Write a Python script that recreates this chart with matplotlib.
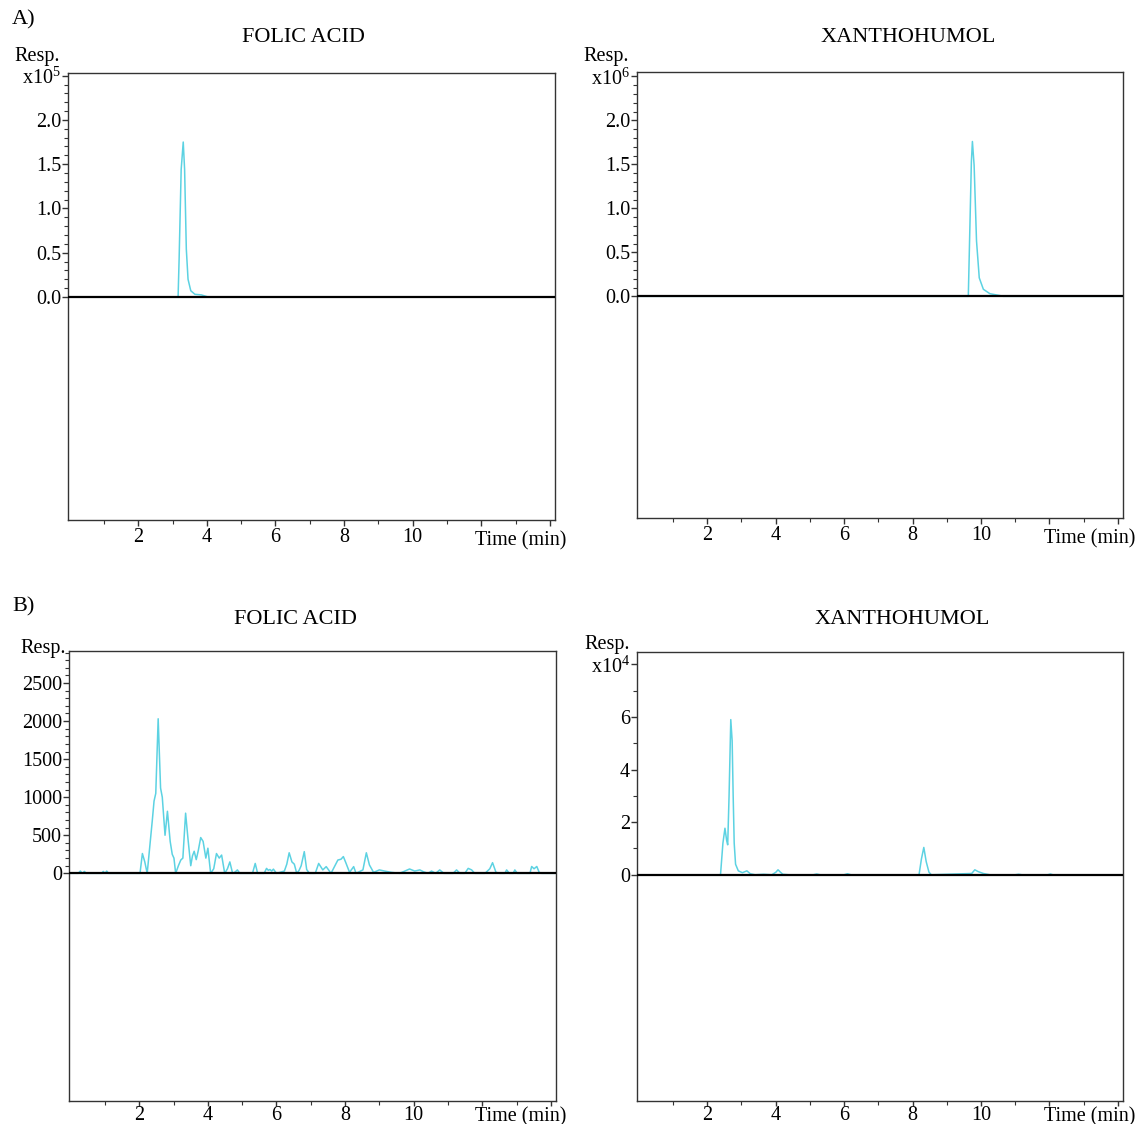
import numpy as np
import matplotlib
matplotlib.use("Agg")
import matplotlib.pyplot as plt
from matplotlib.ticker import FixedLocator, NullFormatter

plt.rcParams['font.family'] = ['Liberation Serif', 'DejaVu Serif']
plt.rcParams['mathtext.fontset'] = 'custom'
plt.rcParams['mathtext.rm'] = 'Liberation Serif'
plt.rcParams['mathtext.it'] = 'Liberation Serif'

TRACE = '#5cd2e2'

# A) standards (response x10^5 / x10^6)
folic_std_t = [0.0, 3.10, 3.16, 3.19, 3.25, 3.31, 3.35, 3.40, 3.45, 3.53, 3.65, 3.84, 4.03, 14.1]
folic_std_v = [0.0, 0.0, 0.0, 0.43, 1.44, 1.75, 1.44, 0.54, 0.20, 0.07, 0.03, 0.023, 0.0, 0.0]

xanth_std_t = [0.0, 9.58, 9.63, 9.68, 9.72, 9.75, 9.80, 9.87, 9.95, 10.07, 10.26, 10.56, 10.65, 14.1]
xanth_std_v = [0.0, 0.0, 0.0, 0.85, 1.53, 1.76, 1.49, 0.63, 0.21, 0.08, 0.03, 0.008, 0.0, 0.0]

# B) sample (folic acid in counts, xanthohumol x10^4)
folic_smp_t = [0.0, 0.22, 0.28, 0.34, 0.40, 0.45, 0.90, 0.95, 1.00, 1.05, 1.10,
               2.02, 2.09, 2.16, 2.23, 2.38, 2.43, 2.48, 2.55, 2.62, 2.67, 2.75, 2.82, 2.90,
               2.96, 3.01, 3.06, 3.14, 3.21, 3.27, 3.35, 3.42, 3.50, 3.55, 3.60, 3.66, 3.72,
               3.79, 3.86, 3.94, 4.00, 4.08, 4.17, 4.25, 4.33, 4.40, 4.49, 4.57, 4.64, 4.72,
               4.80, 4.86, 4.93, 5.30, 5.38, 5.45, 5.64, 5.71, 5.76, 5.81, 5.86, 5.91, 6.00,
               6.23, 6.30, 6.37, 6.45, 6.52, 6.59, 6.66, 6.72, 6.81, 6.88, 6.96, 7.13, 7.23,
               7.35, 7.45, 7.59, 7.69, 7.79, 7.88, 7.95, 8.03, 8.13, 8.25, 8.32, 8.52, 8.62,
               8.71, 8.83, 9.00, 9.15, 9.35, 9.59, 9.74, 9.88, 10.03, 10.18, 10.29, 10.42,
               10.52, 10.64, 10.76, 10.88, 11.15, 11.25, 11.35, 11.49, 11.59, 11.69, 11.78,
               12.08, 12.22, 12.30, 12.40, 12.51, 12.66, 12.71, 12.79, 12.90, 12.95, 13.02,
               13.39, 13.44, 13.51, 13.59, 13.66, 13.73, 14.1]
folic_smp_v = [0, 0, 30, 0, 25, 0, 0, 25, 0, 30, 0,
               0, 260, 150, 0, 700, 950, 1050, 2030, 1120, 1000, 500, 815, 420,
               250, 200, 0, 100, 175, 200, 790, 450, 100, 230, 290, 180, 300,
               470, 420, 200, 330, 0, 60, 260, 200, 240, 0, 60, 150, 0,
               20, 45, 0, 0, 130, 0, 0, 65, 40, 50, 30, 55, 0,
               30, 120, 270, 150, 120, 0, 40, 100, 285, 50, 0, 0, 130,
               45, 88, 0, 88, 175, 185, 220, 130, 13, 88, 0, 45, 270,
               110, 13, 45, 30, 13, 0, 30, 57, 30, 45, 20, 0,
               30, 0, 45, 0, 0, 45, 0, 0, 65, 45, 0,
               0, 60, 140, 13, 0, 0, 45, 0, 0, 45, 0,
               0, 90, 60, 90, 13, 0, 0]

xanth_smp_t = [0.0, 2.39, 2.46, 2.52, 2.57, 2.60, 2.64, 2.69, 2.73, 2.76, 2.79, 2.83,
               2.91, 3.03, 3.16, 3.26, 3.40, 3.65, 3.89, 4.01, 4.07, 4.14, 4.21, 4.38,
               5.10, 5.20, 5.30, 6.00, 6.10, 6.20, 8.19, 8.26, 8.33, 8.40, 8.48, 8.55,
               9.73, 9.82, 9.92, 10.07, 10.26, 11.00, 11.10, 11.20, 11.95, 12.03, 12.10, 14.1]
xanth_smp_v = [0.0, 0.0, 1.2, 1.77, 1.3, 1.14, 3.0, 5.9, 5.1, 3.0, 1.2, 0.4,
               0.15, 0.08, 0.15, 0.04, 0.0, 0.02, 0.0, 0.1, 0.19, 0.1, 0.02, 0.0,
               0.0, 0.03, 0.0, 0.0, 0.04, 0.0, 0.0, 0.6, 1.04, 0.5, 0.1, 0.0,
               0.05, 0.19, 0.12, 0.05, 0.0, 0.0, 0.02, 0.0, 0.0, 0.03, 0.0, 0.0]

xticks_major = [2, 4, 6, 8, 10, 12, 14]
xticks_minor = [1, 3, 5, 7, 9, 11, 13]
xtick_labels = ['2', '4', '6', '8', '10', '', '']

fig = plt.figure(figsize=(11.35, 11.24), dpi=100)

W, H = 1135, 1124
FS = 14.5


def make_ax(left, top, right, bottom):
    return fig.add_axes([left / W, 1 - bottom / H, (right - left) / W, (bottom - top) / H])


def style(ax, ylim, yticks, ylabels, yminor, xpad, xlen):
    ax.set_xlim(-0.05, 14.15)
    ax.set_ylim(*ylim)
    ax.axhline(0, color='black', lw=1.6, zorder=3)
    for s in ax.spines.values():
        s.set_linewidth(1.0)
        s.set_color('#333333')
    ax.xaxis.set_major_locator(FixedLocator(xticks_major))
    ax.xaxis.set_minor_locator(FixedLocator(xticks_minor))
    ax.set_xticklabels(xtick_labels)
    ax.xaxis.set_minor_formatter(NullFormatter())
    ax.yaxis.set_major_locator(FixedLocator(yticks))
    ax.yaxis.set_minor_locator(FixedLocator(yminor))
    ax.set_yticklabels(ylabels)
    ax.tick_params(axis='both', which='major', direction='out', length=4, width=1,
                   labelsize=FS, color='#333333')
    ax.tick_params(axis='both', which='minor', direction='out', length=3, width=0.8,
                   color='#333333')
    ax.tick_params(axis='y', which='major', pad=1)
    ax.tick_params(axis='x', which='major', pad=xpad, length=xlen)
    ax.tick_params(axis='x', which='minor', length=min(3, xlen))


# panel A left
ax1 = make_ax(68, 73, 555, 520)
ax1.plot(folic_std_t, folic_std_v, color=TRACE, lw=1.1)
style(ax1, (-2.52, 2.53), [0, 0.5, 1.0, 1.5, 2.0, 2.5],
      ['0.0', '0.5', '1.0', '1.5', '2.0', 'x10$^5$'], np.arange(0, 2.55, 0.1), 1.5, 4)

# panel A right
ax2 = make_ax(637, 72, 1123, 518)
ax2.plot(xanth_std_t, xanth_std_v, color=TRACE, lw=1.1)
style(ax2, (-2.52, 2.55), [0, 0.5, 1.0, 1.5, 2.0, 2.5],
      ['0.0', '0.5', '1.0', '1.5', '2.0', 'x10$^6$'], np.arange(0, 2.55, 0.1), 1.5, 4)

# panel B left
ax3 = make_ax(69, 651, 556, 1101)
ax3.plot(folic_smp_t, folic_smp_v, color=TRACE, lw=1.1)
style(ax3, (-2990, 2920), [0, 500, 1000, 1500, 2000, 2500],
      ['0', '500', '1000', '1500', '2000', '2500'], np.arange(0, 2950, 100), 0, 3.5)

# panel B right
ax4 = make_ax(637, 652, 1123, 1101)
ax4.plot(xanth_smp_t, xanth_smp_v, color=TRACE, lw=1.1)
style(ax4, (-8.6, 8.47), [0, 2, 4, 6, 8],
      ['0', '2', '4', '6', 'x10$^4$'], [1, 3, 5, 7], 0, 3.5)

# x-axis unit labels
for cx, by in [(521, 545), (1090, 543), (521, 1121), (1090, 1121)]:
    fig.text(cx / W, 1 - by / H, 'Time (min)', fontsize=FS, ha='center', va='baseline')

# "Resp." labels
fig.text(37 / W, 1 - 57 / H, 'Resp.', fontsize=FS, ha='center', va='center')
fig.text(606 / W, 1 - 56 / H, 'Resp.', fontsize=FS, ha='center', va='center')
fig.text(43 / W, 1 - 648 / H, 'Resp.', fontsize=FS, ha='center', va='center')
fig.text(607 / W, 1 - 644 / H, 'Resp.', fontsize=FS, ha='center', va='center')

# titles
fig.text(303 / W, 1 - 37 / H, 'FOLIC ACID', fontsize=16, ha='center', va='center')
fig.text(908 / W, 1 - 37 / H, 'XANTHOHUMOL', fontsize=16, ha='center', va='center')
fig.text(295 / W, 1 - 620 / H, 'FOLIC ACID', fontsize=16, ha='center', va='center')
fig.text(902 / W, 1 - 620 / H, 'XANTHOHUMOL', fontsize=16, ha='center', va='center')

fig.text(12 / W, 1 - 20 / H, 'A)', fontsize=16, ha='left', va='center')
fig.text(12 / W, 1 - 607 / H, 'B)', fontsize=16, ha='left', va='center')

fig.savefig('out.png', dpi=100, facecolor='white')
